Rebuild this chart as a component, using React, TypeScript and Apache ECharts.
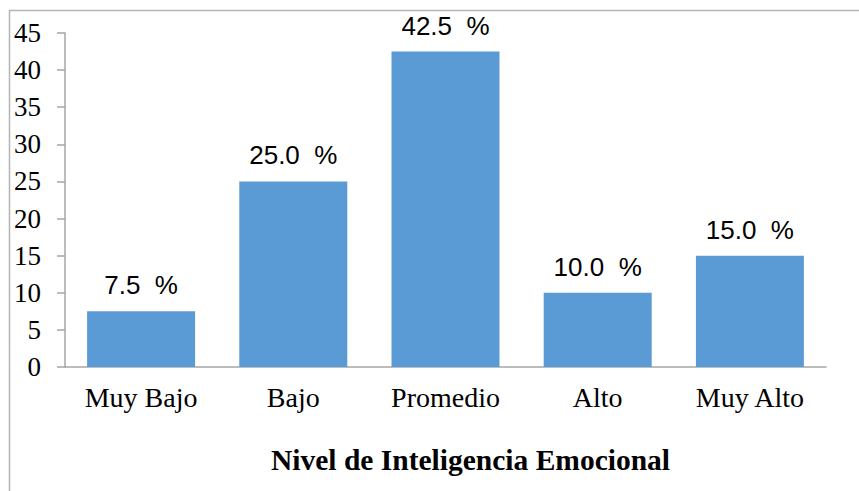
import React, { useEffect, useRef } from "react";
import * as echarts from "echarts";

const categories = ["Muy Bajo", "Bajo", "Promedio", "Alto", "Muy Alto"];
const percentages = [7.5, 25.0, 42.5, 10.0, 15.0];
const axisTitle = "Nivel de Inteligencia Emocional";

export default function App() {
  const ref = useRef<HTMLDivElement>(null);
  useEffect(() => {
    if (!ref.current) return;
    const chart = echarts.init(ref.current, null, { renderer: "svg" });
    chart.setOption({
      animation: false,
      backgroundColor: "#ffffff",
      grid: { left: 65, right: 33, top: 33, bottom: 124, containLabel: false },
      xAxis: {
        type: "category",
        data: categories,
        axisLine: { show: true, lineStyle: { color: "#A6A6A6", width: 1.5 } },
        axisTick: { show: false },
        axisLabel: {
          color: "#000",
          fontFamily: "Liberation Serif",
          fontSize: 28,
          margin: 16,
        },
      },
      yAxis: {
        type: "value",
        min: 0,
        max: 45,
        interval: 5,
        splitLine: { show: false },
        axisLine: { show: true, lineStyle: { color: "#A6A6A6", width: 1.5 } },
        axisTick: { show: true, length: 8, inside: false, lineStyle: { color: "#A6A6A6", width: 1.5 } },
        axisLabel: {
          color: "#000",
          fontFamily: "Liberation Serif",
          fontSize: 27,
          margin: 24,
        },
      },
      series: [
        {
          type: "bar",
          data: percentages,
          barWidth: 108,
          itemStyle: { color: "#5B9BD5" },
          label: {
            show: true,
            position: "top",
            distance: 13,
            color: "#000",
            fontFamily: "Liberation Sans",
            fontSize: 26,
            formatter: (p: any) => `${Number(p.value).toFixed(1)}  %`,
          },
        },
      ],
      graphic: [
        {
          type: "rect",
          shape: { x: 9.5, y: 10.5, width: 1000, height: 600 },
          style: { fill: "none", stroke: "#B4B4B4", lineWidth: 1.5 },
          silent: true,
        },
        {
          type: "text",
          x: 470.5,
          y: 460,
          style: {
            text: axisTitle,
            font: 'bold 29.5px "Liberation Serif"',
            fill: "#000",
            align: "center",
            verticalAlign: "middle",
          },
        },
      ],
    });
    return () => chart.dispose();
  }, []);
  return (
    <div
      ref={ref}
      style={{ position: "fixed", left: 0, top: 0, width: 859, height: 491 }}
    />
  );
}
